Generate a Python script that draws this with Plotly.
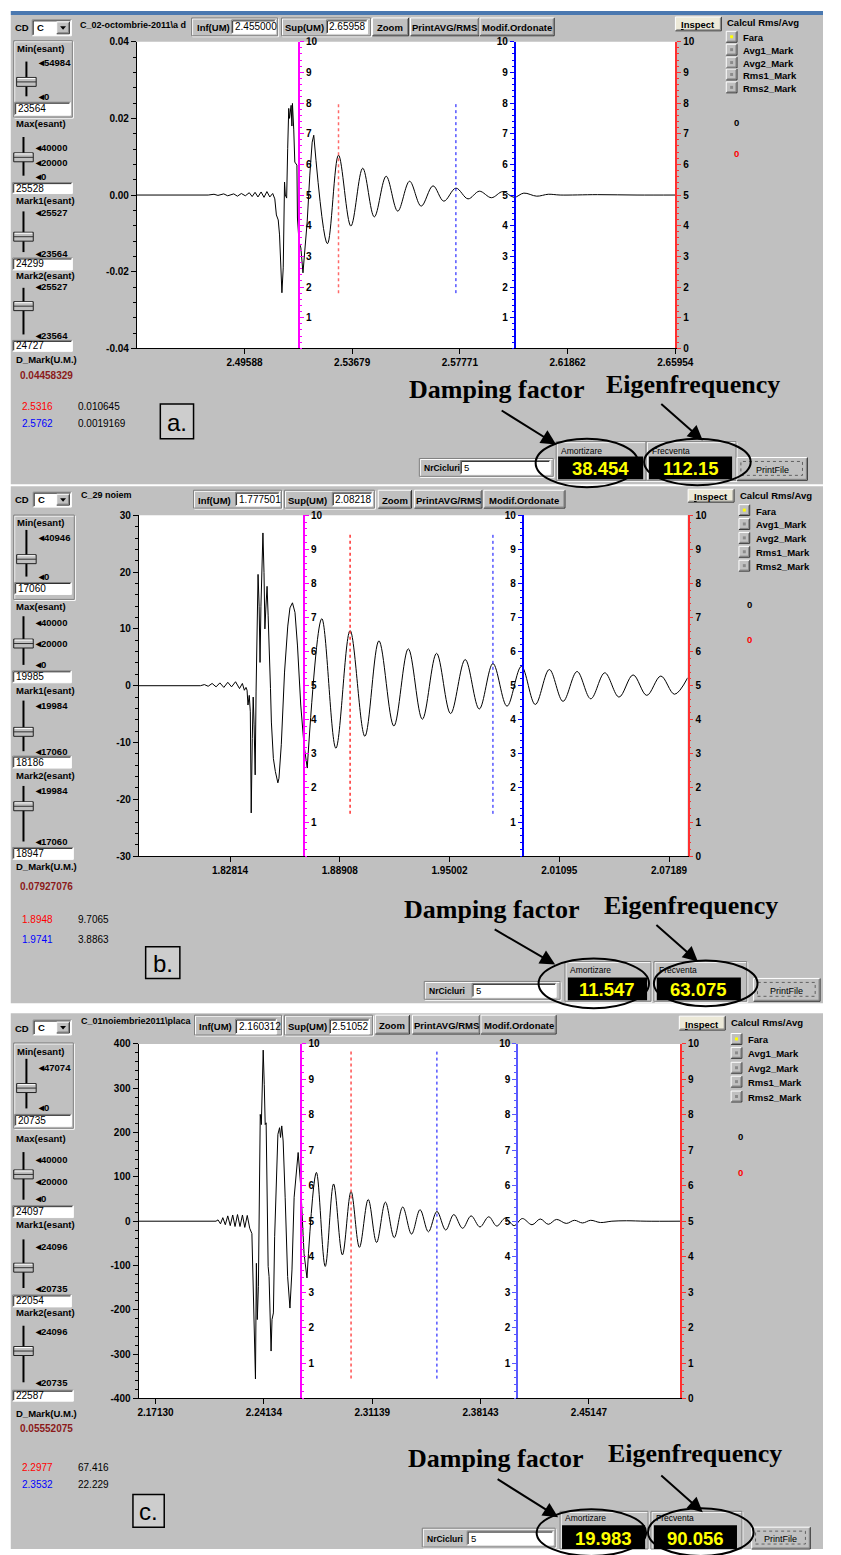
import plotly.graph_objects as go

W, H = 841, 1555

# ------------------------------------------------------------------ data
# panel a : signal (time [s], amplitude)
a_t_burst = [2.4550, 2.4821, 2.4843, 2.4858, 2.4880, 2.4895, 2.4918, 2.4932, 2.4947, 2.4962,
             2.4977, 2.4988, 2.4999, 2.5010, 2.5022, 2.5033, 2.5044, 2.5055, 2.5066, 2.5074,
             2.5080, 2.5087, 2.5092, 2.5096, 2.5101, 2.5106, 2.5111, 2.5114, 2.5119, 2.5123,
             2.5127, 2.5130, 2.5136, 2.5139, 2.5141, 2.5146, 2.5150, 2.5158, 2.5160, 2.5166,
             2.5173, 2.5181, 2.5189, 2.5197, 2.5207, 2.5216, 2.5222]
a_v_burst = [0, 0, 0.0002, -0.0001, 0.0003, -0.0002, 0.0003, -0.0003, 0.0004, -0.0002,
             0.0006, -0.0004, 0.0007, -0.0005, 0.0008, -0.0006, 0.0009, -0.0005, 0.0004, -0.0010,
             -0.0052, -0.0065, -0.0104, -0.0180, -0.0255, -0.0190, 0.0034, 0.0000, -0.0008, 0.0122,
             0.0226, 0.0200, 0.0234, 0.0180, 0.0239, 0.0170, 0.0086, 0.0078, -0.0060, -0.0122,
             -0.0138, -0.0203, -0.0138, -0.0070, 0.0052, 0.0138, 0.0156]
a_t_ring = [2.5222, 2.5274, 2.5316, 2.5363, 2.5408, 2.5452, 2.5497, 2.5541, 2.5586, 2.5630,
            2.5675, 2.5716, 2.5762, 2.5808, 2.5851, 2.5897, 2.5940, 2.5983, 2.6020, 2.6069,
            2.6113, 2.6158, 2.6300, 2.6450, 2.6596]
a_v_ring = [0.0156, -0.0127, 0.0104, -0.0081, 0.0070, -0.0057, 0.0049, -0.0042, 0.0036, -0.0029,
            0.0024, -0.0016, 0.0018, -0.0010, 0.0010, -0.0007, 0.0009, -0.0006, 0.0005, -0.0003,
            0.0002, 0.0, 0.0001, 0.0, 0.0]
a_xrange = [2.455000, 2.65958]
a_yrange = [-0.04, 0.04]
a_xticks = [2.49588, 2.53679, 2.57771, 2.61862, 2.65954]
a_yticks = [0.04, 0.02, 0.0, -0.02, -0.04]
a_ylabels = ["0.04", "0.02", "0.00", "-0.02", "-0.04"]
a_cursor_magenta = 2.5166
a_cursor_blue = 2.5986
a_mark1 = 2.5316
a_mark2 = 2.5762
a_mark_span = [1.8, 8.05]

# panel b
b_t_burst = [1.7775, 1.8117, 1.8139, 1.8160, 1.8182, 1.8204, 1.8225, 1.8247, 1.8269, 1.8290,
             1.8312, 1.8334, 1.8350, 1.8361, 1.8370, 1.8376, 1.8381, 1.8388, 1.8394, 1.8399,
             1.8405, 1.8410, 1.8415, 1.8421, 1.8426, 1.8432, 1.8437, 1.8443, 1.8448, 1.8453,
             1.8459, 1.8464, 1.8470, 1.8475, 1.8480, 1.8487, 1.8493, 1.8498, 1.8506, 1.8511,
             1.8522, 1.8533, 1.8542, 1.8547, 1.8553, 1.8566, 1.8584, 1.8602, 1.8614, 1.8628,
             1.8642, 1.8656, 1.8674, 1.8692, 1.8710]
b_v_burst = [0, 0, 0.2, -0.1, 0.4, -0.2, 0.5, -0.3, 0.6, -0.2,
             0.7, -0.5, 0.4, -0.8, -0.3, -0.8, -3.4, -1.7, -4.6, -22.4,
             -9.3, -2.0, -6.9, -15.7, -1.1, 11.7, 19.6, 14.0, 4.1, 14.0,
             22.2, 26.9, 19.9, 10.0, 13.5, 17.5, 12.3, 5.3, -0.5, -6.4,
             -12.8, -15.1, -16.9, -17.1, -16.3, -10.4, 2.4, 10.5, 13.7, 14.6,
             12.9, 7.0, -3.4, -10.4, -14.5]
b_t_ring = [1.8710, 1.8791, 1.8869, 1.8948, 1.9030, 1.9108, 1.9191, 1.9271, 1.9349, 1.9428,
            1.9506, 1.9587, 1.9665, 1.9741, 1.9819, 1.9899, 1.9976, 2.0054, 2.0130, 2.0208,
            2.0284, 2.0362, 2.0441, 2.0519, 2.0595, 2.0673, 2.0749, 2.0822]
b_v_ring = [-14.5, 11.8, -11.0, 9.7, -8.9, 7.9, -7.1, 6.5, -5.9, 5.7,
            -4.9, 4.6, -4.1, 3.9, -3.6, 3.4, -3.3, 2.85, -2.75, 2.5,
            -2.3, 2.27, -2.0, 1.9, -1.7, 1.7, -1.5, 1.4]
b_xrange = [1.777501, 2.08218]
b_yrange = [-30, 30]
b_xticks = [1.82814, 1.88908, 1.95002, 2.01095, 2.07189]
b_yticks = [30, 20, 10, 0, -10, -20, -30]
b_ylabels = ["30", "20", "10", "0", "-10", "-20", "-30"]
b_cursor_magenta = 1.8692
b_cursor_blue = 1.9907
b_mark1 = 1.8948
b_mark2 = 1.9741
b_mark_span = [1.24, 9.46]

# panel c
c_t_burst = [2.1603, 2.2083, 2.2104, 2.2117, 2.2133, 2.2148, 2.2164, 2.2180, 2.2196, 2.2212,
             2.2227, 2.2243, 2.2259, 2.2275, 2.2290, 2.2306, 2.2322, 2.2336, 2.2352, 2.2359,
             2.2365, 2.2371, 2.2378, 2.2384, 2.2390, 2.2397, 2.2403, 2.2409, 2.2416, 2.2422,
             2.2428, 2.2435, 2.2441, 2.2447, 2.2454, 2.2460, 2.2466, 2.2475, 2.2483, 2.2494,
             2.2504, 2.2515, 2.2521, 2.2529, 2.2538, 2.2551, 2.2567, 2.2582, 2.2595, 2.2609,
             2.2627, 2.2635, 2.2652, 2.2673, 2.2692]
c_v_burst = [0, 0, 0, 3, -6, 8, -8, 12, -10, 14,
             -12, 15, -12, 14, -14, 13, -16, -28, -311, -356,
             -95, -222, -147, 25, 241, 218, 323, 386, 308, 218,
             222, 54, -102, -125, -237, -293, -222, -207, -35, 99,
             196, 211, 189, 215, 181, 54, -125, -196, -110, 54,
             137, 155, 77, -73, -128]
c_t_ring = [2.2692, 2.2753, 2.2810, 2.2864, 2.2921, 2.2977, 2.3031, 2.3088, 2.3142, 2.3199,
            2.3256, 2.3311, 2.3368, 2.3423, 2.3477, 2.3532, 2.3589, 2.3641, 2.3698, 2.3753,
            2.3810, 2.3867, 2.3919, 2.3974, 2.4031, 2.4084, 2.4147, 2.4200, 2.4252, 2.4305,
            2.4368, 2.4421, 2.4473, 2.4526, 2.4589, 2.4663, 2.4757, 2.4884, 2.5105]
c_v_ring = [-128, 110, -102, 84, -76, 67, -59, 49, -48, 43,
            -37, 32, -29, 26, -24, 22, -20, 15, -16, 12,
            -13, 10, -11, 7, -10, 6, -8, 5, -7, 4,
            -5, 2, -4, 2, -3, 0, 1, 0, 0]
c_xrange = [2.160312, 2.51052]
c_yrange = [-400, 400]
c_xticks = [2.17130, 2.24134, 2.31139, 2.38143, 2.45147]
c_yticks = [400, 300, 200, 100, 0, -100, -200, -300, -400]
c_ylabels = ["400", "300", "200", "100", "0", "-100", "-200", "-300", "-400"]
c_cursor_magenta = 2.2656
c_cursor_blue = 2.4052
c_mark1 = 2.2977
c_mark2 = 2.3532
c_mark_span = [0.56, 9.81]

scale_ticks = [0, 1, 2, 3, 4, 5, 6, 7, 8, 9, 10]

radio_labels = ["Fara", "Avg1_Mark", "Avg2_Mark", "Rms1_Mark", "Rms2_Mark"]
top_buttons = ["Zoom", "PrintAVG/RMS", "Modif.Ordonate"]
slider_names = ["Min(esant)", "Max(esant)", "Mark1(esant)", "Mark2(esant)"]

# ------------------------------------------------------------------ helpers
GRAY = '#c0c0c0'
FONT = 'Liberation Sans'
shapes, annots = [], []


def px(x):
    return x / W


def py(y):
    return 1 - y / H


def rect(x0, y0, x1, y1, fill=None, line=None, lw=1, layer='above', dash='solid'):
    shapes.append(dict(type='rect', xref='paper', yref='paper',
                       x0=px(x0), x1=px(x1), y0=py(y1), y1=py(y0),
                       fillcolor=fill if fill else 'rgba(0,0,0,0)',
                       line=dict(color=line if line else 'rgba(0,0,0,0)', width=lw if line else 0, dash=dash),
                       layer=layer))


def seg(x0, y0, x1, y1, color, lw=1, layer='above'):
    shapes.append(dict(type='line', xref='paper', yref='paper',
                       x0=px(x0), x1=px(x1), y0=py(y0), y1=py(y1),
                       line=dict(color=color, width=lw), layer=layer))


def tri(pts, fill):
    d = 'M ' + ' L '.join(f'{px(x):.6f},{py(y):.6f}' for x, y in pts) + ' Z'
    shapes.append(dict(type='path', xref='paper', yref='paper', path=d,
                       fillcolor=fill, line=dict(width=0)))


def text(x, y, s, size=9.5, color='#000000', bold=True, anchor='left', family=FONT):
    annots.append(dict(xref='paper', yref='paper', x=px(x), y=py(y),
                       text=f'<b>{s}</b>' if bold else s, showarrow=False,
                       xanchor=anchor, yanchor='middle', borderpad=0,
                       font=dict(size=size, color=color, family=family)))


def raised(x0, y0, x1, y1, face=GRAY):
    rect(x0, y0, x1, y1, fill=face)
    seg(x0, y0, x1, y0, '#ffffff')
    seg(x0, y0, x0, y1, '#ffffff')
    seg(x0, y1, x1, y1, '#303030')
    seg(x1, y0, x1, y1, '#303030')
    seg(x0 + 1, y1 - 1, x1 - 1, y1 - 1, '#808080')
    seg(x1 - 1, y0 + 1, x1 - 1, y1 - 1, '#808080')


def sunken(x0, y0, x1, y1, fill='#ffffff'):
    rect(x0, y0, x1, y1, fill=fill)
    seg(x0, y0, x1, y0, '#808080')
    seg(x0, y0, x0, y1, '#808080')
    seg(x0 + 1, y0 + 1, x1 - 1, y0 + 1, '#303030')
    seg(x0 + 1, y0 + 1, x0 + 1, y1 - 1, '#303030')
    seg(x0, y1, x1, y1, '#ffffff')
    seg(x1, y0, x1, y1, '#ffffff')


def etched(x0, y0, x1, y1):
    rect(x0 + 1, y0 + 1, x1 + 1, y1 + 1, line='#ffffff')
    rect(x0, y0, x1, y1, line='#808080')


def draw_ui(U):
    rect(*U['bg'], fill=GRAY, layer='below')
    rect(*U['plot'], fill='#ffffff', layer='below')
    t0, t1 = U['top']
    ym = (t0 + t1) / 2
    # CD combo
    text(13, U['cd'], 'CD')
    cx0, cy0, cx1, cy1 = U['combo']
    sunken(cx0, cy0, cx1, cy1)
    text(cx0 + 4, (cy0 + cy1) / 2, 'C')
    raised(cx1 - 15, cy0 + 2, cx1 - 2, cy1 - 2)
    mx, my = cx1 - 8.5, (cy0 + cy1) / 2
    tri([(mx - 3, my - 1.5), (mx + 3, my - 1.5), (mx, my + 2)], '#000000')
    text(U['file'][0], U['file'][1], U['file'][2], size=9)
    # Inf / Sup groups
    for key, lab in (('inf', 'Inf(UM)'), ('sup', 'Sup(UM)')):
        g = U[key]
        etched(*g['frame'])
        text(g['lx'], ym + 1, lab)
        sunken(*g['box'])
        text(g['box'][0] + 2, (g['box'][1] + g['box'][3]) / 2, g['val'], size=10, bold=False)
    for (x0, y0, x1, y1), lab in zip(U['buttons'], top_buttons):
        raised(x0, y0, x1, y1)
        text((x0 + x1) / 2, (y0 + y1) / 2 + 1, lab, anchor='center')
    # Inspect + radio group
    ix0, iy0, ix1, iy1 = U['inspect']
    raised(ix0, iy0, ix1, iy1, face='#ece9d8')
    text((ix0 + ix1) / 2, (iy0 + iy1) / 2 + 1, '<u>I</u>nspect', anchor='center')
    text(U['calc'][0], U['calc'][1], 'Calcul Rms/Avg')
    rx = U['radio_x']
    for j, (ry, lab) in enumerate(zip(U['radio_ys'], radio_labels)):
        raised(rx, ry - 5.5, rx + 11, ry + 5.5)
        rect(rx + 4, ry - 1.5, rx + 7, ry + 1.5, fill='#ffff00' if j == 0 else '#8a8a8a')
        text(U['radio_lx'], ry + 1, lab)
    zx, zy1, zy2 = U['zeros']
    text(zx, zy1, '0')
    text(zx, zy2, '0', color='#ff0000')
    # left column
    etched(*U['minframe'])
    for s, name in zip(U['sliders'], slider_names):
        text(s['label'][0], s['label'][1], name)
        lx, la, lb = s['line']
        seg(lx, la, lx, lb, '#000000', 2)
        tx0, ty0, tx1, ty1 = s['thumb']
        rect(tx0, ty0, tx1, ty1, fill=GRAY, line='#202020')
        seg(tx0 + 1, ty0 + 1, tx1 - 1, ty0 + 1, '#ffffff')
        seg(tx0, (ty0 + ty1) / 2, tx1, (ty0 + ty1) / 2, '#303030')
        for val, yy in s['ticks']:
            text(s['tx'], yy, '\u25C2' + val)
        sunken(*s['box'])
        text(s['box'][0] + 2, (s['box'][1] + s['box'][3]) / 2, s['val'], size=10, bold=False)
    text(14, U['dmark'], 'D_Mark(U.M.)')
    text(18, U['dval'][1], U['dval'][0], size=10, color='#8b1a1a')
    for val, col, xx, yy in U['marks']:
        text(xx, yy, val, size=10, color=col, bold=False)
    (lx0, ly0, lx1, ly1), lab = U['letter']
    rect(lx0, ly0, lx1, ly1, fill='#cdcdcd', line='#000000', lw=1.5)
    text((lx0 + lx1) / 2, (ly0 + ly1) / 2 + 1, lab, size=24, bold=False, anchor='center')
    # bottom controls
    nr = U['nr']
    etched(*nr['frame'])
    text(nr['lx'], (nr['frame'][1] + nr['frame'][3]) / 2 + 1, 'NrCicluri', size=8.5)
    sunken(*nr['box'])
    text(nr['box'][0] + 3, (nr['box'][1] + nr['box'][3]) / 2, '5', size=9.5, bold=False)
    for key, lab in (('amort', 'Amortizare'), ('frec', 'Frecventa')):
        g = U[key]
        etched(*g['frame'])
        text(g['label'][0], g['label'][1], lab, size=8.5, bold=False)
        bx0, by0, bx1, by1 = g['black']
        rect(bx0, by0, bx1, by1, fill='#000000')
        text((bx0 + bx1) / 2, (by0 + by1) / 2 + 1, g['val'], size=18.5, color='#ffff00', anchor='center')
    pf = U['printfile']
    raised(*pf)
    rect(pf[0] + 4, pf[1] + 4, pf[2] - 5, pf[3] - 5, line='#606060', lw=1, dash='dot')
    text((pf[0] + pf[2]) / 2, (pf[1] + pf[3]) / 2 + 1, 'PrintFile', size=9, bold=False, anchor='center')
    # big annotations
    text(U['damp'][0], U['damp'][1], 'Damping factor', size=26, anchor='center', family='Liberation Serif')
    text(U['eig'][0], U['eig'][1], 'Eigenfrequency', size=26, anchor='center', family='Liberation Serif')
    for (ax0, ay0, ax1, ay1) in U['arrows']:
        annots.append(dict(xref='paper', yref='paper', x=px(ax1), y=py(ay1), text='',
                           showarrow=True, axref='pixel', ayref='pixel', ax=ax0 - ax1, ay=ay0 - ay1,
                           arrowhead=2, arrowsize=1.5, arrowwidth=2, arrowcolor='#000000'))
    for (ex0, ey0, ex1, ey1) in U['ellipses']:
        shapes.append(dict(type='circle', xref='paper', yref='paper', x0=px(ex0), x1=px(ex1),
                           y0=py(ey1), y1=py(ey0), line=dict(color='#000000', width=2)))


RED = '#ff0000'
BLUE = '#0000ff'
BLK = '#000000'

UA = dict(
    bg=(10, 9, 841, 482), plot=(139, 36, 690, 345), top=(12, 30), cd=22, combo=(32, 14, 72, 30),
    file=(80, 19, r'C_02-octombrie-2011\a d'),
    inf=dict(frame=(195, 12, 283, 30), lx=199, box=(236, 14, 281, 28), val='2.455000'),
    sup=dict(frame=(287, 12, 378, 30), lx=290, box=(333, 14, 375, 28), val='2.65958'),
    buttons=[(380, 12, 417, 30), (419, 12, 489, 30), (490, 12, 566, 30)],
    inspect=(690, 11, 737, 25), calc=(742, 17), radio_x=742, radio_ys=[31, 44, 57, 69, 82], radio_lx=758,
    zeros=(749, 117, 149), minframe=(13, 35, 73, 112),
    sliders=[
        dict(label=(15, 43), line=(26, 56, 91), thumb=(16, 72, 36, 81), ticks=[('54984', 57), ('0', 91)], tx=37, box=(14, 97, 71, 110), val='23564'),
        dict(label=(14, 118), line=(23, 132, 171), thumb=(13, 148, 33, 157), ticks=[('40000', 143), ('20000', 158), ('0', 172)], tx=34, box=(12, 178, 73, 189), val='25528'),
        dict(label=(14, 196), line=(23, 207, 248), thumb=(13, 228, 33, 237), ticks=[('25527', 208), ('23564', 249)], tx=34, box=(12, 254, 73, 266), val='24299'),
        dict(label=(14, 272), line=(23, 284, 331), thumb=(13, 298, 33, 307), ticks=[('25527', 283), ('23564', 332)], tx=34, box=(12, 337, 73, 348), val='24727'),
    ],
    dmark=356, dval=('0.04458329', 372),
    marks=[('2.5316', RED, 20, 404), ('0.010645', BLK, 78, 404), ('2.5762', BLUE, 20, 421), ('0.0019169', BLK, 78, 421)],
    letter=((163, 401, 197, 436), 'a.'),
    damp=(507, 386), eig=(708, 381), arrows=[(512, 407, 568, 442), (675, 400, 718, 438)],
    nr=dict(frame=(428, 456, 565, 474), lx=432, box=(470, 458, 562, 472)),
    amort=dict(frame=(568, 439, 660, 478), label=(572, 448), black=(570, 454, 657, 477), val='38.454'),
    frec=dict(frame=(660, 439, 752, 478), label=(665, 448), black=(663, 454, 748, 477), val='112.15'),
    printfile=(753, 455, 825, 478),
    ellipses=[(547, 436, 652, 485), (658, 436, 767, 483)],
)

UB = dict(
    bg=(10, 484, 841, 1005), plot=(141, 513.3, 702.5, 856.7), top=(488, 506), cd=497, combo=(33, 490, 72, 505),
    file=(81, 493, 'C_29 noiem'),
    inf=dict(frame=(197, 488, 287, 506), lx=201, box=(240, 490, 285, 504), val='1.777501'),
    sup=dict(frame=(290, 488, 382, 506), lx=293, box=(339, 490, 380, 504), val='2.08218'),
    buttons=[(386, 488, 420, 506), (423, 488, 492, 506), (494, 488, 577, 506)],
    inspect=(703, 487, 750, 500), calc=(755, 493), radio_x=755, radio_ys=[508, 522, 536, 550, 564], radio_lx=771,
    zeros=(762, 603, 638), minframe=(13, 513, 75, 598),
    sliders=[
        dict(label=(15, 521), line=(26, 528, 575), thumb=(16, 553, 36, 562), ticks=[('40946', 536), ('0', 575)], tx=37, box=(14, 581, 72, 593), val='17060'),
        dict(label=(14, 605), line=(23, 615, 664), thumb=(13, 638, 33, 647), ticks=[('40000', 621), ('20000', 642), ('0', 664)], tx=34, box=(12, 670, 72, 682), val='19985'),
        dict(label=(14, 690), line=(23, 700, 751), thumb=(13, 727, 33, 736), ticks=[('19984', 705), ('17060', 751)], tx=34, box=(12, 756, 72, 768), val='18186'),
        dict(label=(14, 775), line=(23, 786, 842), thumb=(13, 802, 33, 811), ticks=[('19984', 791), ('17060', 842)], tx=34, box=(12, 848, 74, 860), val='18947'),
    ],
    dmark=867, dval=('0.07927076', 887),
    marks=[('1.8948', RED, 20, 921), ('9.7065', BLK, 78, 921), ('1.9741', BLUE, 20, 941), ('3.8863', BLK, 78, 941)],
    letter=((148, 948, 183, 980), 'b.'),
    damp=(502, 911), eig=(706, 906), arrows=[(505, 930, 567, 966), (670, 925, 713, 963)],
    nr=dict(frame=(433, 983, 572, 1001), lx=437, box=(482, 985, 568, 999)),
    amort=dict(frame=(577, 963, 665, 1003), label=(581, 972), black=(580, 979, 661, 1002), val='11.547'),
    frec=dict(frame=(668, 963, 763, 1003), label=(672, 972), black=(671, 979, 757, 1002), val='63.075'),
    printfile=(770, 980, 838, 1003),
    ellipses=[(550, 960, 663, 1010), (668, 962, 774, 1008)],
)

UC = dict(
    bg=(10, 1015, 841, 1555), plot=(140.7, 1046, 695, 1403.3), top=(1017, 1037), cd=1030, combo=(33, 1022, 72, 1037),
    file=(81, 1023, 'C_01noiembrie2011\\placa'),
    inf=dict(frame=(198, 1017, 287, 1037), lx=202, box=(240, 1021, 282, 1036), val='2.160312'),
    sup=dict(frame=(290, 1017, 380, 1037), lx=293, box=(336, 1021, 377, 1036), val='2.51052'),
    buttons=[(383, 1017, 418, 1036), (421, 1017, 490, 1036), (491, 1017, 568, 1036)],
    inspect=(694, 1018, 741, 1032), calc=(746, 1024), radio_x=747, radio_ys=[1041, 1055, 1070, 1084, 1099], radio_lx=763,
    zeros=(753, 1139, 1176), minframe=(13, 1045, 74, 1131),
    sliders=[
        dict(label=(15, 1054), line=(26, 1061, 1111), thumb=(16, 1086, 36, 1095), ticks=[('47074', 1070), ('0', 1110)], tx=37, box=(14, 1117, 72, 1129), val='20735'),
        dict(label=(14, 1141), line=(23, 1155, 1203), thumb=(13, 1173, 33, 1182), ticks=[('40000', 1162), ('20000', 1185), ('0', 1202)], tx=34, box=(12, 1209, 74, 1221), val='24097'),
        dict(label=(14, 1228), line=(23, 1243, 1292), thumb=(13, 1267, 33, 1276), ticks=[('24096', 1250), ('20735', 1292)], tx=34, box=(12, 1299, 72, 1311), val='22054'),
        dict(label=(14, 1317), line=(23, 1330, 1387), thumb=(13, 1351, 33, 1360), ticks=[('24096', 1336), ('20735', 1387)], tx=34, box=(12, 1395, 74, 1406), val='22587'),
    ],
    dmark=1418, dval=('0.05552075', 1434),
    marks=[('2.2977', RED, 20, 1473), ('67.416', BLK, 78, 1473), ('2.3532', BLUE, 20, 1490), ('22.229', BLK, 78, 1490)],
    letter=((135, 1500, 167, 1533), 'c.'),
    damp=(506, 1464), eig=(710, 1459), arrows=[(508, 1484, 570, 1523), (675, 1480, 718, 1518)],
    nr=dict(frame=(431, 1534, 567, 1553), lx=435, box=(477, 1537, 565, 1551)),
    amort=dict(frame=(572, 1517, 662, 1555), label=(576, 1524), black=(574, 1531, 659, 1555), val='19.983'),
    frec=dict(frame=(665, 1517, 758, 1555), label=(669, 1524), black=(668, 1531, 753, 1555), val='90.056'),
    printfile=(768, 1533, 828, 1555),
    ellipses=[(548, 1515, 660, 1562), (662, 1514, 770, 1562)],
)

panels = [
    dict(U=UA, bt=a_t_burst, bv=a_v_burst, rt=a_t_ring, rv=a_v_ring, xr=a_xrange, yr=a_yrange,
         xt=a_xticks, yt=a_yticks, yl=a_ylabels, yminor=0.004, mag=a_cursor_magenta, blu=a_cursor_blue,
         m1=a_mark1, m2=a_mark2, span=a_mark_span, blucol='#0000ff', reddot='#ff6a6a'),
    dict(U=UB, bt=b_t_burst, bv=b_v_burst, rt=b_t_ring, rv=b_v_ring, xr=b_xrange, yr=b_yrange,
         xt=b_xticks, yt=b_yticks, yl=b_ylabels, yminor=2, mag=b_cursor_magenta, blu=b_cursor_blue,
         m1=b_mark1, m2=b_mark2, span=b_mark_span, blucol='#0000ff', reddot='#ff3030'),
    dict(U=UC, bt=c_t_burst, bv=c_v_burst, rt=c_t_ring, rv=c_v_ring, xr=c_xrange, yr=c_yrange,
         xt=c_xticks, yt=c_yticks, yl=c_ylabels, yminor=20, mag=c_cursor_magenta, blu=c_cursor_blue,
         m1=c_mark1, m2=c_mark2, span=c_mark_span, blucol='#5a5aff', reddot='#ff5050'),
]

# thin title sliver at the very top
rect(10, 5, 841, 9, fill='#4a78b0', layer='below')

fig = go.Figure()
layout = dict(width=W, height=H, margin=dict(l=0, r=0, t=0, b=0), paper_bgcolor='#ffffff',
              plot_bgcolor='rgba(0,0,0,0)', showlegend=False)
TF = dict(family=FONT, size=10, color='#000000', weight='bold')


def yid(n):
    return 'y' if n == 1 else f'y{n}'


def yname(n):
    return 'yaxis' if n == 1 else f'yaxis{n}'


for i, P in enumerate(panels):
    U = P['U']
    draw_ui(U)
    k = i + 1
    xid = 'x' if k == 1 else f'x{k}'
    xname = 'xaxis' if k == 1 else f'xaxis{k}'
    nm, nmag, nblu, nred = 4 * i + 1, 4 * i + 2, 4 * i + 3, 4 * i + 4
    x0, y0, x1, y1 = U['plot']
    xr = P['xr']

    def xpos(t, x0=x0, x1=x1, xr=xr):
        return (x0 + (t - xr[0]) / (xr[1] - xr[0]) * (x1 - x0)) / W

    layout[xname] = dict(domain=[x0 / W, x1 / W], anchor=yid(nm), range=xr, tickmode='array',
                         tickvals=P['xt'], ticktext=[f'{v:.5f}' for v in P['xt']], ticks='outside',
                         ticklen=5, tickcolor='#000', showline=True, linecolor='#000', linewidth=1,
                         showgrid=False, zeroline=False, tickfont=TF, fixedrange=True)
    layout[yname(nm)] = dict(domain=[1 - y1 / H, 1 - y0 / H], anchor=xid, range=P['yr'], tickmode='array',
                             tickvals=P['yt'], ticktext=P['yl'], ticks='outside', ticklen=5, tickcolor='#000',
                             showline=True, linecolor='#000', linewidth=1, showgrid=False, zeroline=False,
                             tickfont=TF, fixedrange=True,
                             minor=dict(dtick=P['yminor'], tick0=0, ticks='outside', ticklen=3,
                                        tickcolor='#000', showgrid=False))
    common = dict(overlaying=yid(nm), range=[0, 10], tickmode='array', showgrid=False, zeroline=False,
                  ticks='outside', ticklen=4, tickfont=TF, showline=True, fixedrange=True)
    layout[yname(nmag)] = dict(common, anchor='free', position=xpos(P['mag']), side='right',
                               tickvals=scale_ticks[1:], ticktext=[str(v) for v in scale_ticks[1:]],
                               tickcolor='#ff00ff', linecolor='#ff00ff', linewidth=2,
                               minor=dict(dtick=0.2, tick0=0, ticks='outside', ticklen=2, tickcolor='#ff00ff'))
    layout[yname(nblu)] = dict(common, anchor='free', position=xpos(P['blu']), side='left',
                               tickvals=scale_ticks[1:], ticktext=[str(v) for v in scale_ticks[1:]],
                               tickcolor=P['blucol'], linecolor=P['blucol'], linewidth=2,
                               minor=dict(dtick=0.2, tick0=0, ticks='outside', ticklen=2, tickcolor=P['blucol']))
    layout[yname(nred)] = dict(common, anchor=xid, side='right',
                               tickvals=scale_ticks, ticktext=[str(v) for v in scale_ticks],
                               tickcolor='#ff3030', linecolor='#ff3030', linewidth=1.5,
                               minor=dict(dtick=0.2, tick0=0, ticks='outside', ticklen=2, tickcolor='#ff3030'))

    fig.add_trace(go.Scatter(x=P['bt'], y=P['bv'], xaxis=xid, yaxis=yid(nm), mode='lines',
                             line=dict(color='#000000', width=1), hoverinfo='skip'))
    fig.add_trace(go.Scatter(x=P['rt'], y=P['rv'], xaxis=xid, yaxis=yid(nm), mode='lines',
                             line=dict(color='#000000', width=1, shape='spline', smoothing=1), hoverinfo='skip'))
    fig.add_trace(go.Scatter(x=[P['m1'], P['m1']], y=P['span'], xaxis=xid, yaxis=yid(nmag), mode='lines',
                             line=dict(color=P['reddot'], width=1.5, dash='dot'), hoverinfo='skip'))
    fig.add_trace(go.Scatter(x=[P['m2'], P['m2']], y=P['span'], xaxis=xid, yaxis=yid(nmag), mode='lines',
                             line=dict(color='#0000ff', width=1, dash='dot'), hoverinfo='skip'))
    fig.add_trace(go.Scatter(x=[P['blu']], y=[5], xaxis=xid, yaxis=yid(nblu), mode='markers',
                             marker=dict(opacity=0), hoverinfo='skip'))
    fig.add_trace(go.Scatter(x=[P['blu']], y=[5], xaxis=xid, yaxis=yid(nred), mode='markers',
                             marker=dict(opacity=0), hoverinfo='skip'))

layout['shapes'] = shapes
layout['annotations'] = annots
fig.update_layout(**layout)
fig.write_html("out.html", config=dict(displayModeBar=False),
               post_script="document.body.style.margin='0px';document.body.style.overflow='hidden';"
                           "document.documentElement.style.overflow='hidden';")
